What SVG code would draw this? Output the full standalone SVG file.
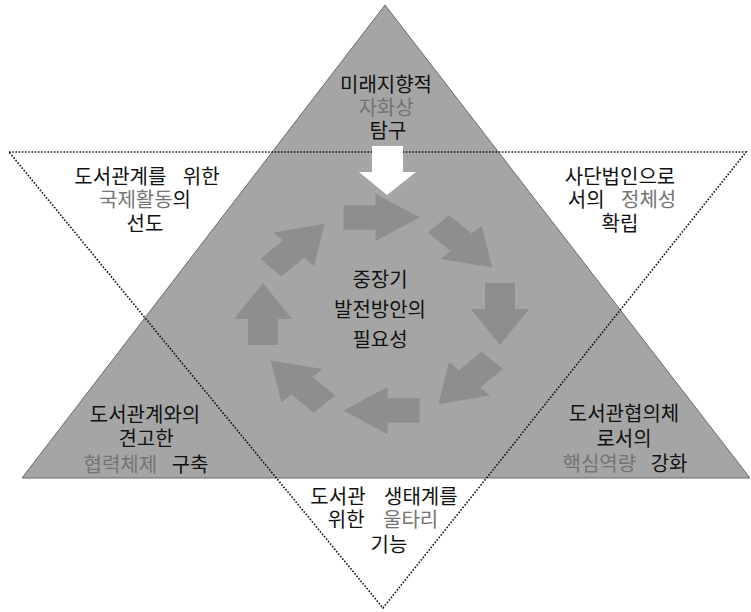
<svg xmlns="http://www.w3.org/2000/svg" width="751" height="612" viewBox="0 0 751 612">
<defs>
<style>
text{font-family:"Noto Sans CJK KR","Noto Sans CJK SC",sans-serif;font-size:20px;fill:#111;text-anchor:middle}
.g{fill:#747474}
.ring{fill:#8e8e8e}
</style>
<path id="arw" d="M-38,-15 H-6 V-29 L38,0 L-6,29 V15 H-38 Z"/>
</defs>
<rect width="751" height="612" fill="#ffffff"/>
<g id="triangle-up">
<polygon points="385,5 22,478 750,478" fill="#a5a5a5" stroke="#6a6a6a" stroke-width="1"/>
</g>
<g id="triangle-down">
<polygon points="9,152 746,152 383,608" fill="none" stroke="#111" stroke-width="1.6" stroke-dasharray="1.6 1.6"/>
</g>
<g id="connectors">
<g id="cycle" class="ring" transform="translate(381.5,314) scale(1,0.815)">
<use href="#arw" transform="rotate(0) translate(0,-118.5)"/>
<use href="#arw" transform="rotate(45) translate(0,-118.5)"/>
<use href="#arw" transform="rotate(90) translate(0,-118.5)"/>
<use href="#arw" transform="rotate(135) translate(0,-118.5)"/>
<use href="#arw" transform="rotate(180) translate(0,-118.5)"/>
<use href="#arw" transform="rotate(225) translate(0,-118.5)"/>
<use href="#arw" transform="rotate(270) translate(0,-118.5)"/>
<use href="#arw" transform="rotate(315) translate(0,-118.5)"/>
</g>
<g id="down-arrow" fill="#ffffff">
<rect x="372" y="146" width="31" height="26"/>
<polygon points="359,172 416,172 387,195"/>
</g>
</g>
<g id="node-top">
<text><tspan x="386" y="92">미래지향적</tspan><tspan x="386" y="115" class="g">자화상</tspan><tspan x="388" y="138">탐구</tspan></text>
</g>
<g id="node-upper-left">
<text><tspan x="147" y="184">도서관계를 <tspan dx="12">위한</tspan></tspan><tspan x="145" y="207"><tspan class="g">국제활동</tspan>의</tspan><tspan x="145" y="231">선도</tspan></text>
</g>
<g id="node-upper-right">
<text><tspan x="620" y="184">사단법인으로</tspan><tspan x="622" y="207">서의 <tspan class="g" dx="12">정체성</tspan></tspan><tspan x="620" y="231">확립</tspan></text>
</g>
<g id="node-center">
<text><tspan x="380" y="287">중장기</tspan><tspan x="380" y="317">발전방안의</tspan><tspan x="380" y="347">필요성</tspan></text>
</g>
<g id="node-lower-left">
<text><tspan x="145" y="422">도서관계와의</tspan><tspan x="146" y="446">견고한</tspan><tspan x="146" y="472"><tspan class="g">협력체제</tspan> <tspan dx="10">구축</tspan></tspan></text>
</g>
<g id="node-lower-right">
<text><tspan x="624" y="421">도서관협의체</tspan><tspan x="624" y="446">로서의</tspan><tspan x="625" y="471"><tspan class="g">핵심역량</tspan> <tspan dx="10">강화</tspan></tspan></text>
</g>
<g id="node-bottom">
<text><tspan x="384" y="504">도서관 <tspan dx="14">생태계를</tspan></tspan><tspan x="383" y="527">위한 <tspan class="g" dx="14">울타리</tspan></tspan><tspan x="389" y="552">기능</tspan></text>
</g>
</svg>
